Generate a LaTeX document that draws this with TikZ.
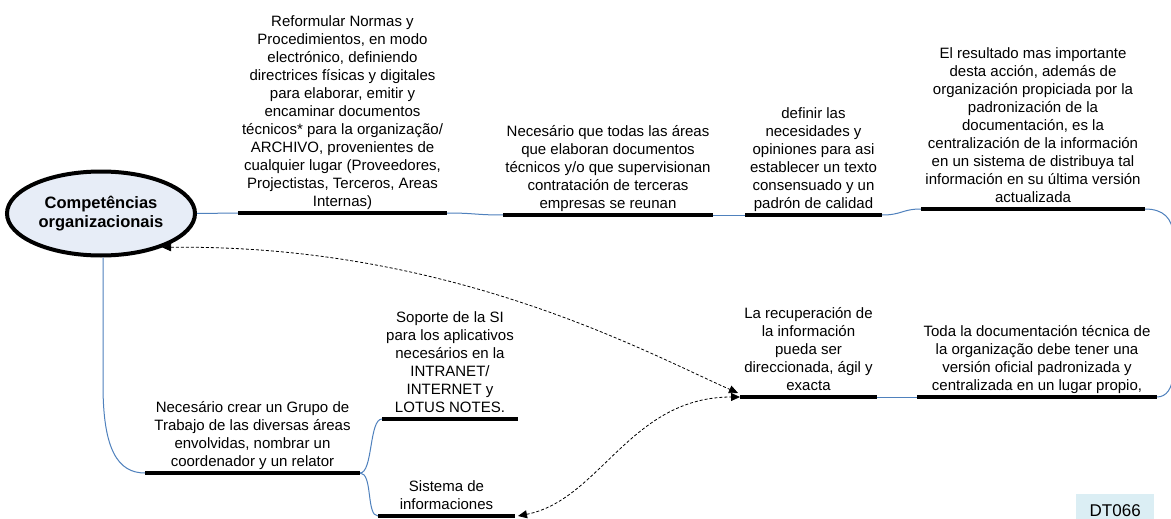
\documentclass[tikz,border=0pt]{standalone}
\usepackage{fontspec}
\setmainfont{Liberation Sans}
\usetikzlibrary{arrows.meta,shapes.geometric}
\definecolor{linkblue}{RGB}{79,129,189}
\definecolor{ellfill}{RGB}{231,237,247}
\definecolor{tagfill}{RGB}{219,238,244}
\begin{document}
\begin{tikzpicture}[x=1pt,y=-1pt,
  txt/.style={font=\fontsize{15}{18}\selectfont, align=center, anchor=south, inner sep=0pt, execute at end node=\strut},
  bar/.style={line width=4pt, black, line cap=butt},
  link/.style={linkblue, line width=1pt},
  dasharrow/.style={black, line width=0.8pt, dash pattern=on 3pt off 2pt, {Triangle[length=9pt,width=8pt]}-{Triangle[length=9pt,width=8pt]}}]
\clip (0,0) rectangle (1171,519);
\fill[white] (0,0) rectangle (1171,519);

% central ellipse
\node[ellipse, draw=black, line width=4pt, fill=ellfill, minimum width=188pt, minimum height=84pt, inner sep=0pt,
      font=\bfseries\fontsize{16.5}{19}\selectfont, align=center] (ell) at (101,213.5) {Competências\\organizacionais};

% bar end points
\coordinate (n1w) at (238,213);  \coordinate (n1e) at (447,213);
\coordinate (n2w) at (503,215);  \coordinate (n2e) at (713,215);
\coordinate (n3w) at (745,215);  \coordinate (n3e) at (882,215);
\coordinate (n4w) at (921,209);  \coordinate (n4e) at (1145,209);
\coordinate (todaw) at (917,397); \coordinate (todae) at (1157,397);
\coordinate (recw) at (740,397); \coordinate (rece) at (877,397);
\coordinate (recin) at (738,393);
\coordinate (sopw) at (382,419); \coordinate (sope) at (518,419);
\coordinate (necw) at (145,473); \coordinate (nece) at (360,473);
\coordinate (sisw) at (378,516); \coordinate (sise) at (515,516);
\coordinate (sistip) at (518,516);

% texts
\node[txt] (n1) at (342.5,211.9) {Reformular Normas y\\Procedimientos, en modo\\electrónico, definiendo\\directrices físicas y digitales\\para elaborar, emitir y\\encaminar documentos\\técnicos* para la organização/\\ARCHIVO, provenientes de\\cualquier lugar (Proveedores,\\Projectistas, Terceros, Areas\\Internas)};
\node[txt] (n2) at (608,213.9) {Necesário que todas las áreas\\que elaboran documentos\\técnicos y/o que supervisionan\\contratación de terceras\\empresas se reunan};
\node[txt] (n3) at (813.5,213.9) {definir las\\necesidades y\\opiniones para asi\\establecer un texto\\consensuado y un\\padrón de calidad};
\node[txt] (n4) at (1033,207.9) {El resultado mas importante\\desta acción, además de\\organización propiciada por la\\padronización de la\\documentación, es la\\centralización de la información\\en un sistema de distribuya tal\\información en su última versión\\actualizada};
\node[txt] (toda) at (1037,395.9) {Toda la documentación técnica de\\la organização debe tener una\\versión oficial padronizada y\\centralizada en un lugar propio,};
\node[txt] (rec) at (808.5,395.9) {La recuperación de\\la información\\pueda ser\\direccionada, ágil y\\exacta};
\node[txt] (sop) at (450,417.9) {Soporte de la SI\\para los aplicativos\\necesários en la\\INTRANET/\\INTERNET y\\LOTUS NOTES.};
\node[txt] (nec) at (252.5,471.9) {Necesário crear un Grupo de\\Trabajo de las diversas áreas\\envolvidas, nombrar un\\coordenador y un relator};
\node[txt] (sis) at (446.5,514.9) {Sistema de\\informaciones};

% blue connectors
\draw[link] (ell.east) -- (n1w);
\draw[link] (n1e) .. controls (475,213) and (475,215) .. (n2w);
\draw[link] (n2e) -- (n3w);
\draw[link] (n3e) .. controls (902,215) and (902,209) .. (n4w);
\draw[link] (n4e) .. controls (1163,209) and (1173,218) .. (1173,236) -- (1173,372) .. controls (1173,389) and (1166,397) .. (todae);
\draw[link] (rece) -- (todaw);
\draw[link] ([xshift=2pt]ell.south) -- (103,385) .. controls (103,450) and (118,473) .. (necw);
\draw[link] (nece) .. controls (373,473) and (369,419) .. (sopw);
\draw[link] (nece) .. controls (373,473) and (366,516) .. (sisw);

% bars
\draw[bar] (n1w) -- (n1e);
\draw[bar] (n2w) -- (n2e);
\draw[bar] (n3w) -- (n3e);
\draw[bar] (n4w) -- (n4e);
\draw[bar] (todaw) -- (todae);
\draw[bar] (recw) -- (rece);
\draw[bar] (sopw) -- (sope);
\draw[bar] (necw) -- (nece);
\draw[bar] (sisw) -- (sise);

% dashed arrows
\draw[dasharrow] (ell.-29) .. controls (450,244) and (645,352) .. (recin);
\draw[dasharrow] (sistip) .. controls (600,500) and (630,397) .. (recw);

% tag
\node[fill=tagfill, minimum width=78pt, minimum height=33pt, inner sep=0pt, anchor=north west,
      font=\fontsize{17}{20}\selectfont] (tag) at (1076,494) {DT066};
\end{tikzpicture}
\end{document}
